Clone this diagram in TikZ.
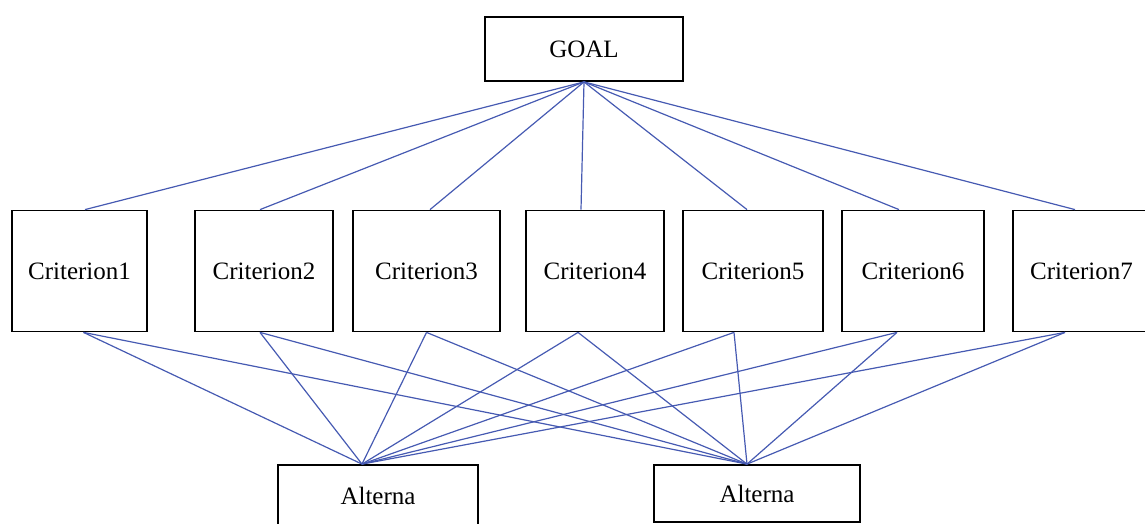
\documentclass[tikz,border=0pt]{standalone}
\usepackage{fontspec}
\setmainfont{Liberation Serif}
\usetikzlibrary{positioning}
\definecolor{linkblue}{RGB}{70,90,178}

\begin{document}
\begin{tikzpicture}[x=0.5pt, y=-0.5pt, font=\fontsize{12.5}{15}\selectfont,
    box/.style={draw, line width=0.9pt, inner sep=0pt, minimum height=60.5pt},
    link/.style={linkblue, line width=0.6pt}]
        \useasboundingbox (0,0) rectangle (1145,524);

        % Goal on top
        \node[box, minimum width=99pt, minimum height=32pt] (goal) at (584,49) {GOAL};

        % Row of criteria
        \node[box, minimum width=67.5pt] (c1) at (79.5,271) {Criterion1};
        \node[box, minimum width=69pt] (c2) [right of=c1, node distance=92.25pt] {Criterion2};
        \node[box, minimum width=73.5pt] (c3) [right of=c2, node distance=81.25pt] {Criterion3};
        \node[box, minimum width=69pt] (c4) [right of=c3, node distance=84.25pt] {Criterion4};
        \node[box, minimum width=70pt] (c5) [right of=c4, node distance=79pt] {Criterion5};
        \node[box, minimum width=71pt] (c6) [right of=c5, node distance=80pt] {Criterion6};
        \node[box, minimum width=68.5pt] (c7) [right of=c6, node distance=84.25pt] {Criterion7};

        % Alternatives at the bottom
        \node[box, minimum width=100pt, minimum height=31pt] (alt1) at (378,496) {Alterna};
        \node[box, minimum width=103pt, minimum height=28.5pt] (alt2) at (757,493.5) {Alterna};
        \coordinate (a1) at ([xshift=-8pt]alt1.north);
        \coordinate (a2) at ([xshift=-5pt]alt2.north);

        \path[link]
        % Goal to each criterion
        (goal.south) edge ([xshift=2.75pt]c1.north)
        (goal.south) edge ([xshift=-2pt]c2.north)
        (goal.south) edge ([xshift=1.75pt]c3.north)
        (goal.south) edge ([xshift=-7pt]c4.north)
        (goal.south) edge ([xshift=-3pt]c5.north)
        (goal.south) edge ([xshift=-7pt]c6.north)
        (goal.south) edge ([xshift=-3.25pt]c7.north)

        % Each criterion to both alternatives
        ([xshift=2pt]c1.south) edge (a1)
        ([xshift=2pt]c1.south) edge (a2)
        ([xshift=-2pt]c2.south) edge (a1)
        ([xshift=-2pt]c2.south) edge (a2)
        (c3.south) edge (a1)
        (c3.south) edge (a2)
        ([xshift=-8.5pt]c4.south) edge (a1)
        ([xshift=-8.5pt]c4.south) edge (a2)
        ([xshift=-9.5pt]c5.south) edge (a1)
        ([xshift=-9.5pt]c5.south) edge (a2)
        ([xshift=-8pt]c6.south) edge (a1)
        ([xshift=-8pt]c6.south) edge (a2)
        ([xshift=-8.25pt]c7.south) edge (a1)
        ([xshift=-8.25pt]c7.south) edge (a2);
    \end{tikzpicture}
\end{document}
